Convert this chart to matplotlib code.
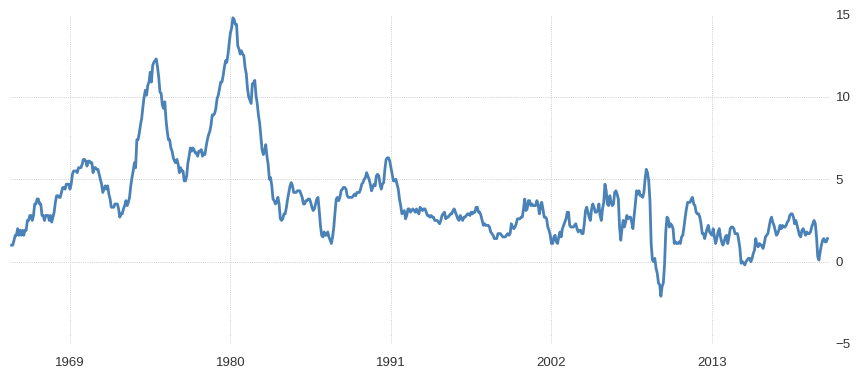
import numpy as np
import matplotlib
matplotlib.use("Agg")
import matplotlib.pyplot as plt

# --------------------------------------------------
# DATA: inflation rate, yearly lists of monthly values (%)
# --------------------------------------------------
START_YEAR = 1965
MONTHLY = [
    [1.0, 1.0, 1.3, 1.6, 1.6, 2.0, 1.6, 1.9, 1.6, 1.9, 1.6, 1.9],        # 1965
    [1.9, 2.5, 2.5, 2.8, 2.8, 2.5, 2.8, 3.5, 3.5, 3.8, 3.8, 3.5],        # 1966
    [3.5, 2.8, 2.8, 2.5, 2.8, 2.8, 2.8, 2.5, 2.8, 2.4, 2.7, 3.0],        # 1967
    [3.6, 4.0, 4.0, 3.9, 3.9, 4.2, 4.5, 4.5, 4.4, 4.7, 4.7, 4.7],        # 1968
    [4.4, 4.7, 5.3, 5.5, 5.5, 5.5, 5.4, 5.7, 5.7, 5.7, 5.9, 6.2],        # 1969
    [6.2, 6.1, 5.8, 6.1, 6.1, 6.0, 6.0, 5.4, 5.7, 5.7, 5.6, 5.6],        # 1970
    [5.3, 5.0, 4.7, 4.2, 4.4, 4.6, 4.4, 4.6, 4.1, 3.8, 3.3, 3.3],        # 1971
    [3.3, 3.5, 3.5, 3.5, 3.2, 2.7, 2.9, 2.9, 3.2, 3.4, 3.7, 3.4],        # 1972
    [3.6, 3.9, 4.6, 5.1, 5.5, 6.0, 5.7, 7.4, 7.4, 7.8, 8.3, 8.7],        # 1973
    [9.4, 10.0, 10.4, 10.1, 10.7, 10.9, 11.5, 10.9, 11.9, 12.1, 12.2, 12.3],  # 1974
    [11.8, 11.2, 10.3, 10.2, 9.5, 9.3, 9.7, 8.6, 7.9, 7.4, 7.4, 6.9],    # 1975
    [6.7, 6.3, 6.1, 6.0, 6.2, 5.9, 5.4, 5.7, 5.5, 5.5, 4.9, 4.9],        # 1976
    [5.2, 6.0, 6.4, 6.9, 6.7, 6.9, 6.8, 6.6, 6.6, 6.4, 6.7, 6.7],        # 1977
    [6.8, 6.4, 6.6, 6.5, 7.0, 7.4, 7.7, 7.9, 8.3, 8.9, 8.9, 9.0],        # 1978
    [9.3, 9.9, 10.1, 10.5, 10.9, 10.9, 11.3, 11.8, 12.2, 12.1, 12.6, 13.3],  # 1979
    [13.9, 14.2, 14.8, 14.7, 14.4, 14.4, 13.1, 12.9, 12.6, 12.8, 12.6, 12.5],  # 1980
    [11.8, 11.4, 10.5, 10.0, 9.8, 9.6, 10.8, 10.8, 11.0, 10.1, 9.6, 8.9],  # 1981
    [8.4, 7.6, 6.8, 6.5, 6.7, 7.1, 6.4, 5.9, 5.0, 5.1, 4.6, 3.8],        # 1982
    [3.7, 3.5, 3.6, 3.9, 3.5, 2.6, 2.5, 2.6, 2.9, 2.9, 3.3, 3.8],        # 1983
    [4.2, 4.6, 4.8, 4.6, 4.2, 4.2, 4.2, 4.3, 4.3, 4.3, 4.1, 3.9],        # 1984
    [3.5, 3.5, 3.7, 3.7, 3.8, 3.8, 3.6, 3.3, 3.1, 3.2, 3.5, 3.8],        # 1985
    [3.9, 3.1, 2.2, 1.6, 1.5, 1.8, 1.6, 1.6, 1.8, 1.5, 1.3, 1.1],        # 1986
    [1.5, 2.1, 3.0, 3.8, 3.9, 3.7, 3.9, 4.3, 4.4, 4.5, 4.5, 4.4],        # 1987
    [4.0, 3.9, 3.9, 3.9, 3.9, 4.0, 4.1, 4.0, 4.2, 4.2, 4.2, 4.4],        # 1988
    [4.7, 4.8, 5.0, 5.1, 5.4, 5.2, 5.0, 4.7, 4.3, 4.5, 4.7, 4.6],        # 1989
    [5.2, 5.3, 5.2, 4.7, 4.4, 4.7, 4.8, 5.6, 6.2, 6.3, 6.3, 6.1],        # 1990
    [5.7, 5.3, 4.9, 4.9, 5.0, 4.7, 4.4, 3.8, 3.4, 2.9, 3.0, 3.1],        # 1991
    [2.6, 2.8, 3.2, 3.2, 3.0, 3.1, 3.2, 3.1, 3.0, 3.2, 3.0, 2.9],        # 1992
    [3.3, 3.2, 3.1, 3.2, 3.2, 3.0, 2.8, 2.8, 2.7, 2.8, 2.7, 2.7],        # 1993
    [2.5, 2.5, 2.5, 2.4, 2.3, 2.5, 2.8, 2.9, 3.0, 2.6, 2.7, 2.7],        # 1994
    [2.8, 2.9, 2.9, 3.1, 3.2, 3.0, 2.8, 2.6, 2.5, 2.8, 2.6, 2.5],        # 1995
    [2.7, 2.7, 2.8, 2.9, 2.9, 2.8, 3.0, 2.9, 3.0, 3.0, 3.3, 3.3],        # 1996
    [3.0, 3.0, 2.8, 2.5, 2.2, 2.3, 2.2, 2.2, 2.2, 2.1, 1.8, 1.7],        # 1997
    [1.6, 1.4, 1.4, 1.4, 1.7, 1.7, 1.7, 1.6, 1.5, 1.5, 1.5, 1.6],        # 1998
    [1.7, 1.6, 1.7, 2.3, 2.1, 2.0, 2.1, 2.3, 2.6, 2.6, 2.6, 2.7],        # 1999
    [2.7, 3.2, 3.8, 3.1, 3.2, 3.7, 3.7, 3.4, 3.5, 3.4, 3.4, 3.4],        # 2000
    [3.7, 3.5, 2.9, 3.3, 3.6, 3.2, 2.7, 2.7, 2.6, 2.1, 1.9, 1.6],        # 2001
    [1.1, 1.1, 1.5, 1.6, 1.2, 1.1, 1.5, 1.8, 1.5, 2.0, 2.2, 2.4],        # 2002
    [2.6, 3.0, 3.0, 2.2, 2.1, 2.1, 2.1, 2.2, 2.3, 2.0, 1.8, 1.9],        # 2003
    [1.9, 1.7, 1.7, 2.3, 3.1, 3.3, 3.0, 2.7, 2.5, 3.2, 3.5, 3.3],        # 2004
    [3.0, 3.0, 3.1, 3.5, 2.8, 2.5, 3.2, 3.6, 4.7, 4.3, 3.5, 3.4],        # 2005
    [4.0, 3.6, 3.4, 3.5, 4.2, 4.3, 4.1, 3.8, 2.1, 1.3, 2.0, 2.5],        # 2006
    [2.1, 2.4, 2.8, 2.6, 2.7, 2.7, 2.4, 2.0, 2.8, 3.5, 4.3, 4.1],        # 2007
    [4.3, 4.0, 4.0, 3.9, 4.2, 5.0, 5.6, 5.4, 4.9, 3.7, 1.1, 0.1],        # 2008
    [0.0, 0.2, -0.4, -0.7, -1.3, -1.4, -2.1, -1.5, -1.3, -0.2, 1.8, 2.7],  # 2009
    [2.6, 2.1, 2.3, 2.2, 2.0, 1.1, 1.2, 1.1, 1.1, 1.2, 1.1, 1.5],        # 2010
    [1.6, 2.1, 2.7, 3.2, 3.6, 3.6, 3.6, 3.8, 3.9, 3.5, 3.4, 3.0],        # 2011
    [2.9, 2.9, 2.7, 2.3, 1.7, 1.7, 1.4, 1.7, 2.0, 2.2, 1.8, 1.7],        # 2012
    [1.6, 2.0, 1.5, 1.1, 1.4, 1.8, 2.0, 1.5, 1.2, 1.0, 1.2, 1.5],        # 2013
    [1.6, 1.1, 1.5, 2.0, 2.1, 2.1, 2.0, 1.7, 1.7, 1.7, 1.3, 0.8],        # 2014
    [-0.1, 0.0, -0.1, -0.2, 0.0, 0.1, 0.2, 0.2, 0.0, 0.2, 0.5, 0.7],     # 2015
    [1.4, 1.0, 0.9, 1.1, 1.0, 1.0, 0.8, 1.1, 1.5, 1.6, 1.7, 2.1],        # 2016
    [2.5, 2.7, 2.4, 2.2, 1.9, 1.6, 1.7, 1.9, 2.2, 2.0, 2.2, 2.1],        # 2017
    [2.1, 2.2, 2.4, 2.5, 2.8, 2.9, 2.9, 2.7, 2.3, 2.5, 2.2, 1.9],        # 2018
    [1.6, 1.5, 1.9, 2.0, 1.8, 1.6, 1.8, 1.7, 1.7, 1.8, 2.1, 2.3],        # 2019
    [2.5, 2.3, 1.5, 0.3, 0.1, 0.6, 1.0, 1.3, 1.4, 1.2, 1.2, 1.4],        # 2020
]
X_TICKS = [1969, 1980, 1991, 2002, 2013]
Y_TICKS = [-5, 0, 5, 10, 15]

LINE_COLOR = "#4a82b8"
GRID_COLOR = "#cfcfcf"
TEXT_COLOR = "#333333"

# --------------------------------------------------
# BUILD SERIES
# --------------------------------------------------
values = np.array([v for year in MONTHLY for v in year])
dates = np.array([START_YEAR + y + m / 12.0
                  for y in range(len(MONTHLY)) for m in range(12)])

# --------------------------------------------------
# PLOT
# --------------------------------------------------
plt.rcParams["font.family"] = ["Liberation Sans", "DejaVu Sans"]

fig = plt.figure(figsize=(8.6, 3.76), dpi=100)
ax = fig.add_axes([10 / 860, 1 - 344 / 376, 820 / 860, (344 - 14.5) / 376])

ax.plot(dates, values, color=LINE_COLOR, linewidth=2.0, solid_joinstyle="round")

ax.set_xlim(1964.89, 2021.09)
ax.set_ylim(-5, 15)
ax.set_xticks(X_TICKS)
ax.set_xticklabels([str(t) for t in X_TICKS])
ax.set_yticks(Y_TICKS)

ax.yaxis.tick_right()
ax.tick_params(axis="both", length=0, labelsize=9.5, colors=TEXT_COLOR)
ax.tick_params(axis="x", pad=9)
ax.tick_params(axis="y", pad=4)

for s in ax.spines.values():
    s.set_visible(False)

ax.grid(True, color=GRID_COLOR, linestyle=(0, (1, 1.2)), linewidth=0.7)
ax.set_axisbelow(True)

fig.savefig("out.png", dpi=100)
